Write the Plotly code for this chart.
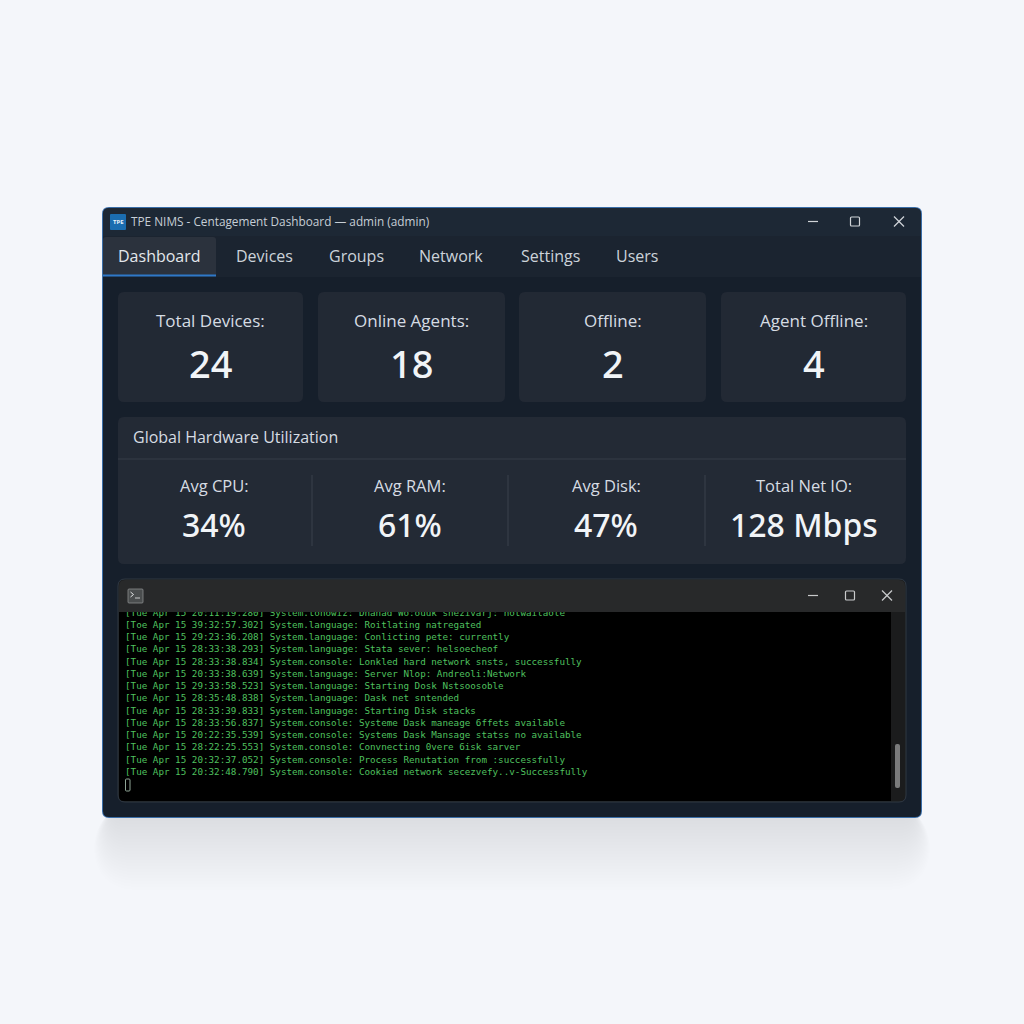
import plotly.graph_objects as go

# данные с картинки
window_title = "TPE NIMS - Centagement Dashboard — admin (admin)"
tabs = ["Dashboard", "Devices", "Groups", "Network", "Settings", "Users"]
card_labels = ["Total Devices:", "Online Agents:", "Offline:", "Agent Offline:"]
card_values = ["24", "18", "2", "4"]
panel_title = "Global Hardware Utilization"
util_labels = ["Avg CPU:", "Avg RAM:", "Avg Disk:", "Total Net IO:"]
util_values = ["34%", "61%", "47%", "128 Mbps"]
log_lines = [
    "[Tue Apr 15 20:11:19.280] System.tonowiz: Dnanad Wo:ouuk snezivarj: notwailaole",
    "[Toe Apr 15 39:32:57.302] System.language: Roitlating natregated",
    "[Tue Apr 15 29:23:36.208] System.language: Conlicting pete: currently",
    "[Tue Apr 15 28:33:38.293] System.language: Stata sever: helsoecheof",
    "[Tue Apr 15 28:33:38.834] System.console: Lonkled hard network snsts, successfully",
    "[Tue Apr 15 20:33:38.639] System.language: Server Nlop: Andreoli:Network",
    "[Tue Apr 15 29:33:58.523] System.language: Starting Dosk Nstsoosoble",
    "[Tue Apr 15 28:35:48.838] System.language: Dask net sntended",
    "[Tue Apr 15 28:33:39.833] System.language: Starting Disk stacks",
    "[Tue Apr 15 28:33:56.837] System.console: Systeme Dask maneage 6ffets available",
    "[Tue Apr 15 20:22:35.539] System.console: Systems Dask Mansage statss no available",
    "[Tue Apr 15 28:22:25.553] System.console: Convnecting 0vere 6isk sarver",
    "[Tue Apr 15 20:32:37.052] System.console: Process Renutation from :successfully",
    "[Tue Apr 15 20:32:48.790] System.console: Cookied network secezvefy..v-Successfully",
]

# разметка в пикселях
tab_x = [159, 264, 356, 451, 550, 637]
card_boxes = [(118, 303), (318, 505), (519, 706), (721, 906)]
util_x = [214, 410, 606, 804]
util_sep_x = [312, 508, 705]
log_y = [614, 626, 638, 650, 663, 675, 687, 699, 712, 724, 736, 748, 761, 773]

UI_FONT = "Open Sans"
VALUE_FONT = "Noto Sans"
shapes = []
notes = []


def rrect(x0, y0, x1, y1, r=6, tl=True, tr=True, br=True, bl=True):
    # путь прямоугольника со скруглёнными углами
    p = f"M{x0 + (r if tl else 0)},{y0} L{x1 - (r if tr else 0)},{y0} "
    if tr:
        p += f"Q{x1},{y0} {x1},{y0 + r} "
    p += f"L{x1},{y1 - (r if br else 0)} "
    if br:
        p += f"Q{x1},{y1} {x1 - r},{y1} "
    p += f"L{x0 + (r if bl else 0)},{y1} "
    if bl:
        p += f"Q{x0},{y1} {x0},{y1 - r} "
    p += f"L{x0},{y0 + (r if tl else 0)} "
    if tl:
        p += f"Q{x0},{y0} {x0 + r},{y0} "
    return p + "Z"


def box(x0, y0, x1, y1, fill, r=6, line=None, lw=1, opacity=1, **corners):
    shapes.append(dict(
        type="path", path=rrect(x0, y0, x1, y1, r, **corners), fillcolor=fill,
        line=dict(color=line or "rgba(0,0,0,0)", width=lw if line else 0),
        opacity=opacity, layer="below", xref="x", yref="y",
    ))


def seg(x0, y0, x1, y1, color, w=1):
    shapes.append(dict(
        type="line", x0=x0, y0=y0, x1=x1, y1=y1, xref="x", yref="y",
        line=dict(color=color, width=w), layer="below",
    ))


def label(x, y, text, size, color="#d6dce3", anchor="center", weight=400, family=UI_FONT):
    notes.append(dict(
        x=x, y=y, xref="x", yref="y", text=text, showarrow=False, xanchor=anchor, yanchor="middle",
        font=dict(size=size, color=color, family=family, weight=weight),
    ))


def win_controls(x_min, x_max, x_close, y, color):
    seg(x_min - 5, y, x_min + 5, y, color, 1.2)
    box(x_max - 4.5, y - 4.5, x_max + 4.5, y + 4.5, "rgba(0,0,0,0)", r=1, line=color, lw=1.2)
    seg(x_close - 5, y - 5, x_close + 5, y + 5, color, 1.2)
    seg(x_close - 5, y + 5, x_close + 5, y - 5, color, 1.2)


# мягкая тень окна, в основном снизу
for i in range(24):
    grow = 3 * (24 - i)
    box(112 - grow * 0.25, 806, 912 + grow * 0.25, 818 + grow, "#50565e", r=10 + grow * 0.5, opacity=0.009)

# основное окно
box(102, 207, 922, 818, "#3a6ea8", r=7)
box(103, 208, 921, 817, "#161f2b", r=6)
box(103, 208, 921, 236, "#1d2835", r=6, br=False, bl=False)
box(103, 236, 921, 277, "#1b2430", r=0)
box(103, 237, 216, 275, "#2b323d", r=3, br=False, bl=False)
seg(103, 275.5, 216, 275.5, "#2f78c8", 2)

# заголовок
box(110, 214, 126, 230, "#1b6db0", r=1)
label(118, 222, "TPE", 6, color="#e8f2fa", weight=700)
label(128.5, 221, window_title, 11.8, color="#c6ced6", anchor="left")
win_controls(813, 855, 899, 221.5, "#d0d4d8")

for tab, x in zip(tabs, tab_x):
    label(x, 256, tab, 16, color="#e3e7ec" if tab == "Dashboard" else "#ccd3da")

# карточки
for (x0, x1), name, value in zip(card_boxes, card_labels, card_values):
    box(x0, 292, x1, 402, "#222934", r=6)
    label((x0 + x1) / 2, 320, name, 17)
    label((x0 + x1) / 2, 363, value, 38, color="#f1f4f7", weight=500, family=VALUE_FONT)

# панель утилизации
box(118, 417, 906, 564, "#232a35", r=6)
label(131, 437, panel_title, 16, anchor="left")
seg(118, 459, 906, 459, "#363d49", 1)
for x in util_sep_x:
    seg(x, 475, x, 546, "#3a414c", 1)
for x, name, value in zip(util_x, util_labels, util_values):
    label(x, 485, name, 16.5)
    label(x, 524, value, 32, color="#f1f4f7", weight=500, family=VALUE_FONT)

# терминал
box(118, 579, 906, 802, "#1b1c1d", r=7, line="#2f3843", lw=1)
box(119, 580, 905, 612, "#28292a", r=6, br=False, bl=False)
box(119, 612, 891, 801, "#000000", r=5, tl=False, tr=False, br=False)
box(895, 744, 900, 788, "#7a7b7c", r=2)
box(128, 589, 143, 603, "#4a4d4e", r=1, line="#8a8d8e", lw=0.8)
seg(130.5, 592, 133.5, 594.5, "#e0e2e2", 1)
seg(133.5, 594.5, 130.5, 597, "#e0e2e2", 1)
seg(135, 598, 140, 598, "#c8caca", 1)
win_controls(813, 850, 887, 595.5, "#c8cacb")
box(125.5, 779, 130, 791, "rgba(0,0,0,0)", r=1, line="#8fa596", lw=1)

fig = go.Figure()
# лог на отдельной оси, чтобы верхняя строка обрезалась краем области
fig.add_trace(go.Scatter(
    x=[125] * len(log_lines), y=log_y, text=log_lines, mode="text", textposition="middle right",
    textfont=dict(family="DejaVu Sans Mono", size=9.25, color="#4fc05f"),
    xaxis="x2", yaxis="y2", cliponaxis=True, hoverinfo="skip", showlegend=False,
))

hidden = dict(visible=False, showgrid=False, zeroline=False, fixedrange=True)
fig.update_layout(
    width=1024, height=1024, margin=dict(l=0, r=0, t=0, b=0),
    paper_bgcolor="#f4f6fa", plot_bgcolor="rgba(0,0,0,0)", showlegend=False,
    xaxis=dict(range=[0, 1024], domain=[0, 1], **hidden),
    yaxis=dict(range=[1024, 0], domain=[0, 1], **hidden),
    xaxis2=dict(range=[0, 1024], domain=[0, 1], anchor="y2", **hidden),
    yaxis2=dict(range=[802, 612], domain=[1 - 802 / 1024, 1 - 612 / 1024], anchor="x2", **hidden),
    shapes=shapes, annotations=notes,
)

fig.write_html("out.html", config={"displayModeBar": False},
               post_script="document.body.style.margin='0';document.body.style.overflow='hidden';")
